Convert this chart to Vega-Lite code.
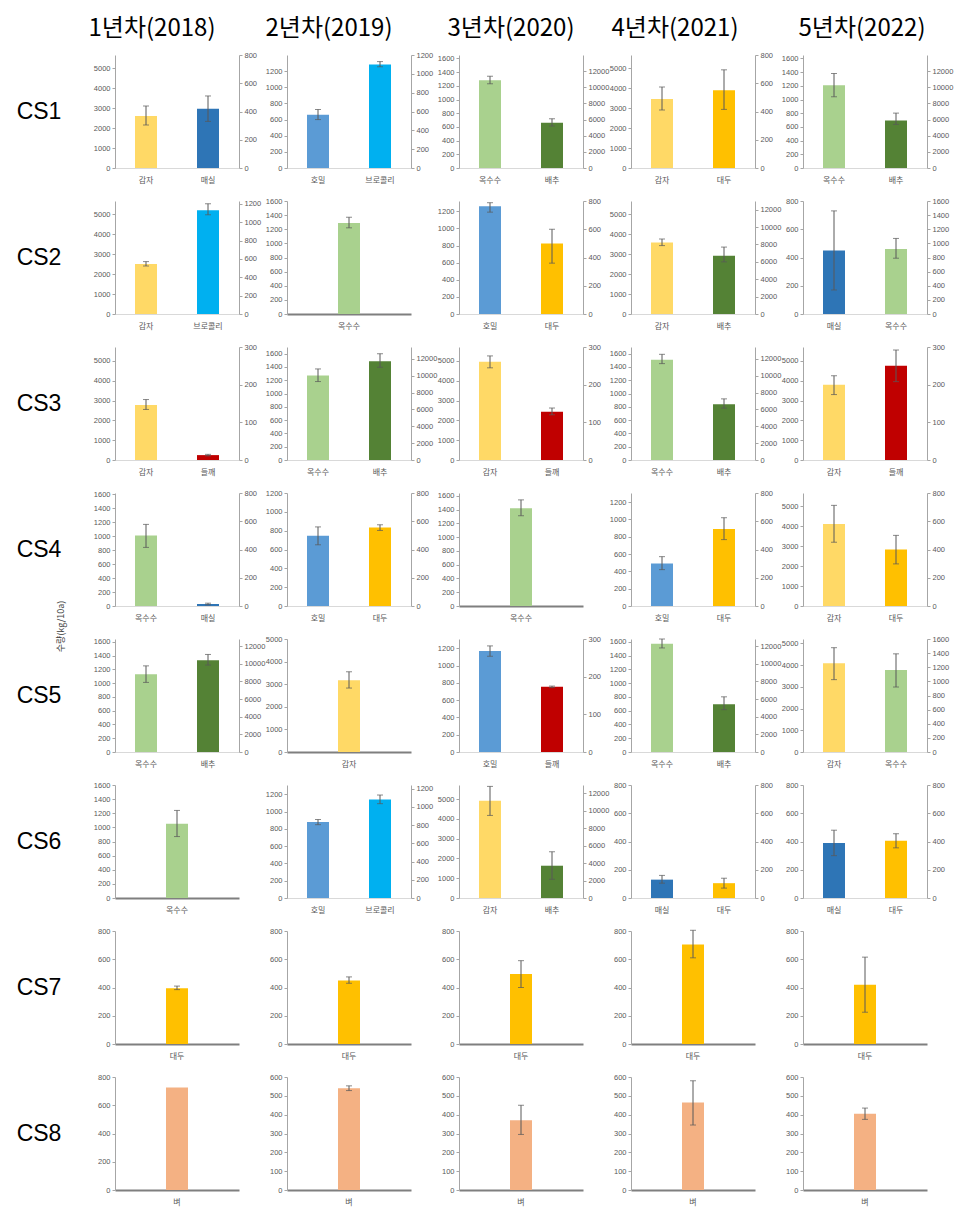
{
"$schema":"https://vega.github.io/schema/vega-lite/v6.json",
"padding":5,"background":"white",
"data":{"values":[
{"p":"1-1","c":"감자","s":"L","v":2600,"lo":2150,"hi":3100},
{"p":"1-1","c":"매실","s":"R","v":420,"lo":330,"hi":510},
{"p":"1-2","c":"호밀","s":"L","v":660,"lo":600,"hi":725},
{"p":"1-2","c":"브로콜리","s":"R","v":1100,"lo":1075,"hi":1130},
{"p":"1-3","c":"옥수수","s":"L","v":1280,"lo":1230,"hi":1340},
{"p":"1-3","c":"배추","s":"R","v":5600,"lo":5200,"hi":6100},
{"p":"1-4","c":"감자","s":"L","v":3450,"lo":2900,"hi":4050},
{"p":"1-4","c":"대두","s":"R","v":550,"lo":415,"hi":695},
{"p":"1-5","c":"옥수수","s":"L","v":1210,"lo":1040,"hi":1380},
{"p":"1-5","c":"배추","s":"R","v":5900,"lo":5400,"hi":6800},
{"p":"2-1","c":"감자","s":"L","v":2500,"lo":2400,"hi":2620},
{"p":"2-1","c":"브로콜리","s":"R","v":1130,"lo":1080,"hi":1200},
{"p":"2-2","c":"옥수수","s":"L","v":1290,"lo":1220,"hi":1370},
{"p":"2-3","c":"호밀","s":"L","v":1260,"lo":1190,"hi":1300},
{"p":"2-3","c":"대두","s":"R","v":500,"lo":360,"hi":600},
{"p":"2-4","c":"감자","s":"L","v":3580,"lo":3420,"hi":3750},
{"p":"2-4","c":"배추","s":"R","v":6700,"lo":6000,"hi":7700},
{"p":"2-5","c":"매실","s":"L","v":450,"lo":170,"hi":730},
{"p":"2-5","c":"옥수수","s":"R","v":920,"lo":790,"hi":1070},
{"p":"3-1","c":"감자","s":"L","v":2780,"lo":2550,"hi":3050},
{"p":"3-1","c":"들깨","s":"R","v":13,"lo":11,"hi":15},
{"p":"3-2","c":"옥수수","s":"L","v":1270,"lo":1180,"hi":1370},
{"p":"3-2","c":"배추","s":"R","v":11700,"lo":11000,"hi":12600},
{"p":"3-3","c":"감자","s":"L","v":4950,"lo":4650,"hi":5250},
{"p":"3-3","c":"들깨","s":"R","v":128,"lo":120,"hi":138},
{"p":"3-4","c":"옥수수","s":"L","v":1510,"lo":1450,"hi":1590},
{"p":"3-4","c":"배추","s":"R","v":6600,"lo":6150,"hi":7250},
{"p":"3-5","c":"감자","s":"L","v":3800,"lo":3300,"hi":4250},
{"p":"3-5","c":"들깨","s":"R","v":250,"lo":208,"hi":292},
{"p":"4-1","c":"옥수수","s":"L","v":1010,"lo":840,"hi":1170},
{"p":"4-1","c":"매실","s":"R","v":14,"lo":8,"hi":20},
{"p":"4-2","c":"호밀","s":"L","v":745,"lo":650,"hi":840},
{"p":"4-2","c":"대두","s":"R","v":555,"lo":535,"hi":575},
{"p":"4-3","c":"옥수수","s":"L","v":1420,"lo":1310,"hi":1540},
{"p":"4-4","c":"호밀","s":"L","v":490,"lo":420,"hi":570},
{"p":"4-4","c":"대두","s":"R","v":545,"lo":470,"hi":625},
{"p":"4-5","c":"감자","s":"L","v":4120,"lo":3200,"hi":5050},
{"p":"4-5","c":"대두","s":"R","v":400,"lo":298,"hi":500},
{"p":"5-1","c":"옥수수","s":"L","v":1130,"lo":1010,"hi":1250},
{"p":"5-1","c":"배추","s":"R","v":10400,"lo":9850,"hi":11050},
{"p":"5-2","c":"감자","s":"L","v":3180,"lo":2830,"hi":3550},
{"p":"5-3","c":"호밀","s":"L","v":1170,"lo":1110,"hi":1230},
{"p":"5-3","c":"들깨","s":"R","v":173,"lo":171,"hi":175},
{"p":"5-4","c":"옥수수","s":"L","v":1570,"lo":1510,"hi":1640},
{"p":"5-4","c":"배추","s":"R","v":5400,"lo":4800,"hi":6250},
{"p":"5-5","c":"감자","s":"L","v":4080,"lo":3330,"hi":4800},
{"p":"5-5","c":"옥수수","s":"R","v":1160,"lo":920,"hi":1390},
{"p":"6-1","c":"옥수수","s":"L","v":1050,"lo":870,"hi":1240},
{"p":"6-2","c":"호밀","s":"L","v":880,"lo":850,"hi":910},
{"p":"6-2","c":"브로콜리","s":"R","v":1080,"lo":1035,"hi":1130},
{"p":"6-3","c":"감자","s":"L","v":4920,"lo":4180,"hi":5650},
{"p":"6-3","c":"배추","s":"R","v":3700,"lo":2150,"hi":5300},
{"p":"6-4","c":"매실","s":"L","v":130,"lo":105,"hi":160},
{"p":"6-4","c":"대두","s":"R","v":105,"lo":70,"hi":140},
{"p":"6-5","c":"매실","s":"L","v":390,"lo":300,"hi":480},
{"p":"6-5","c":"대두","s":"R","v":405,"lo":355,"hi":455},
{"p":"7-1","c":"대두","s":"L","v":395,"lo":385,"hi":410},
{"p":"7-2","c":"대두","s":"L","v":450,"lo":430,"hi":475},
{"p":"7-3","c":"대두","s":"L","v":495,"lo":400,"hi":590},
{"p":"7-4","c":"대두","s":"L","v":705,"lo":610,"hi":805},
{"p":"7-5","c":"대두","s":"L","v":420,"lo":225,"hi":615},
{"p":"8-1","c":"벼","s":"L","v":725},
{"p":"8-2","c":"벼","s":"L","v":540,"lo":528,"hi":553},
{"p":"8-3","c":"벼","s":"L","v":370,"lo":295,"hi":450},
{"p":"8-4","c":"벼","s":"L","v":465,"lo":345,"hi":580},
{"p":"8-5","c":"벼","s":"L","v":405,"lo":375,"hi":435}
]},
"config":{"view":{"stroke":null},
"axisY":{"labelFontSize":7.5,"labelColor":"#595959","domainColor":"#A6A6A6","tickColor":"#A6A6A6","tickSize":3,"grid":false,"labelFont":"Liberation Sans","labelPadding":2,"format":"d"},
"axisX":{"labelAngle":0,"ticks":false,"labelFont":"Noto Sans CJK KR","labelFontSize":8,"labelColor":"#595959","labelPadding":8,"domainColor":"#D9D9D9","grid":false}},
"columns":6,"align":"each","bounds":"flush","spacing":{"row":33,"column":48},
"concat":[
{"width":62,"height":10,"data":{"values":[{"t":""}]},"mark":{"type":"text","fontSize":24},"encoding":{"text":{"field":"t"}}},
{"width":124,"height":10,"data":{"values":[{"t":"1년차(2018)"}]},"mark":{"type":"text","fontSize":24,"font":"Noto Sans CJK KR","dx":-25,"dy":12},"encoding":{"text":{"field":"t"}}},
{"width":124,"height":10,"data":{"values":[{"t":"2년차(2019)"}]},"mark":{"type":"text","fontSize":24,"font":"Noto Sans CJK KR","dx":-20,"dy":12},"encoding":{"text":{"field":"t"}}},
{"width":124,"height":10,"data":{"values":[{"t":"3년차(2020)"}]},"mark":{"type":"text","fontSize":24,"font":"Noto Sans CJK KR","dx":-10,"dy":12},"encoding":{"text":{"field":"t"}}},
{"width":124,"height":10,"data":{"values":[{"t":"4년차(2021)"}]},"mark":{"type":"text","fontSize":24,"font":"Noto Sans CJK KR","dx":-18,"dy":12},"encoding":{"text":{"field":"t"}}},
{"width":124,"height":10,"data":{"values":[{"t":"5년차(2022)"}]},"mark":{"type":"text","fontSize":24,"font":"Noto Sans CJK KR","dx":-3,"dy":12},"encoding":{"text":{"field":"t"}}},
{"width":62,"height":113,"data":{"values":[{"t":"CS1"}]},"mark":{"type":"text","fontSize":23,"font":"Liberation Sans","dx":3},"encoding":{"text":{"field":"t"}}},
{"width":124,"height":113,"transform":[{"filter":"datum.p=='1-1'"}],"encoding":{"x":{"field":"c","type":"nominal","title":null,"scale":{"domain":["감자","매실"],"paddingInner":0,"paddingOuter":0}}},"layer":[
{"transform":[{"filter":"datum.s=='L'"}],"encoding":{"y":{"field":"v","type":"quantitative","title":null,"scale":{"domain":[0,5650],"nice":false},"axis":{"values":[0,1000,2000,3000,4000,5000]}}},"layer":[{"mark":{"type":"bar","width":22},"encoding":{"color":{"field":"c","type":"nominal","legend":null,"scale":{"domain":["감자","매실","호밀","브로콜리","옥수수","배추","대두","들깨","벼"],"range":["#FFD966","#2E75B6","#5B9BD5","#00B0F0","#A9D18E","#548235","#FFC000","#C00000","#F4B183"]}}}},{"mark":{"type":"errorbar","ticks":{"size":6,"color":"#595959"},"rule":{"color":"#595959"}},"encoding":{"y":{"field":"lo","type":"quantitative","title":null},"y2":{"field":"hi"}}}]},
{"transform":[{"filter":"datum.s=='R'"}],"encoding":{"y":{"field":"v","type":"quantitative","title":null,"scale":{"domain":[0,800],"nice":false},"axis":{"orient":"right","values":[0,200,400,600,800]}}},"layer":[{"mark":{"type":"bar","width":22},"encoding":{"color":{"field":"c","type":"nominal","legend":null,"scale":{"domain":["감자","매실","호밀","브로콜리","옥수수","배추","대두","들깨","벼"],"range":["#FFD966","#2E75B6","#5B9BD5","#00B0F0","#A9D18E","#548235","#FFC000","#C00000","#F4B183"]}}}},{"mark":{"type":"errorbar","ticks":{"size":6,"color":"#595959"},"rule":{"color":"#595959"}},"encoding":{"y":{"field":"lo","type":"quantitative","title":null},"y2":{"field":"hi"}}}]}
],"resolve":{"scale":{"y":"independent"}}},
{"width":124,"height":113,"transform":[{"filter":"datum.p=='1-2'"}],"encoding":{"x":{"field":"c","type":"nominal","title":null,"scale":{"domain":["호밀","브로콜리"],"paddingInner":0,"paddingOuter":0}}},"layer":[
{"transform":[{"filter":"datum.s=='L'"}],"encoding":{"y":{"field":"v","type":"quantitative","title":null,"scale":{"domain":[0,1400],"nice":false},"axis":{"values":[0,200,400,600,800,1000,1200]}}},"layer":[{"mark":{"type":"bar","width":22},"encoding":{"color":{"field":"c","type":"nominal","legend":null,"scale":{"domain":["감자","매실","호밀","브로콜리","옥수수","배추","대두","들깨","벼"],"range":["#FFD966","#2E75B6","#5B9BD5","#00B0F0","#A9D18E","#548235","#FFC000","#C00000","#F4B183"]}}}},{"mark":{"type":"errorbar","ticks":{"size":6,"color":"#595959"},"rule":{"color":"#595959"}},"encoding":{"y":{"field":"lo","type":"quantitative","title":null},"y2":{"field":"hi"}}}]},
{"transform":[{"filter":"datum.s=='R'"}],"encoding":{"y":{"field":"v","type":"quantitative","title":null,"scale":{"domain":[0,1200],"nice":false},"axis":{"orient":"right","values":[0,200,400,600,800,1000,1200]}}},"layer":[{"mark":{"type":"bar","width":22},"encoding":{"color":{"field":"c","type":"nominal","legend":null,"scale":{"domain":["감자","매실","호밀","브로콜리","옥수수","배추","대두","들깨","벼"],"range":["#FFD966","#2E75B6","#5B9BD5","#00B0F0","#A9D18E","#548235","#FFC000","#C00000","#F4B183"]}}}},{"mark":{"type":"errorbar","ticks":{"size":6,"color":"#595959"},"rule":{"color":"#595959"}},"encoding":{"y":{"field":"lo","type":"quantitative","title":null},"y2":{"field":"hi"}}}]}
],"resolve":{"scale":{"y":"independent"}}},
{"width":124,"height":113,"transform":[{"filter":"datum.p=='1-3'"}],"encoding":{"x":{"field":"c","type":"nominal","title":null,"scale":{"domain":["옥수수","배추"],"paddingInner":0,"paddingOuter":0}}},"layer":[
{"transform":[{"filter":"datum.s=='L'"}],"encoding":{"y":{"field":"v","type":"quantitative","title":null,"scale":{"domain":[0,1650],"nice":false},"axis":{"values":[0,200,400,600,800,1000,1200,1400,1600]}}},"layer":[{"mark":{"type":"bar","width":22},"encoding":{"color":{"field":"c","type":"nominal","legend":null,"scale":{"domain":["감자","매실","호밀","브로콜리","옥수수","배추","대두","들깨","벼"],"range":["#FFD966","#2E75B6","#5B9BD5","#00B0F0","#A9D18E","#548235","#FFC000","#C00000","#F4B183"]}}}},{"mark":{"type":"errorbar","ticks":{"size":6,"color":"#595959"},"rule":{"color":"#595959"}},"encoding":{"y":{"field":"lo","type":"quantitative","title":null},"y2":{"field":"hi"}}}]},
{"transform":[{"filter":"datum.s=='R'"}],"encoding":{"y":{"field":"v","type":"quantitative","title":null,"scale":{"domain":[0,14000],"nice":false},"axis":{"orient":"right","values":[0,2000,4000,6000,8000,10000,12000]}}},"layer":[{"mark":{"type":"bar","width":22},"encoding":{"color":{"field":"c","type":"nominal","legend":null,"scale":{"domain":["감자","매실","호밀","브로콜리","옥수수","배추","대두","들깨","벼"],"range":["#FFD966","#2E75B6","#5B9BD5","#00B0F0","#A9D18E","#548235","#FFC000","#C00000","#F4B183"]}}}},{"mark":{"type":"errorbar","ticks":{"size":6,"color":"#595959"},"rule":{"color":"#595959"}},"encoding":{"y":{"field":"lo","type":"quantitative","title":null},"y2":{"field":"hi"}}}]}
],"resolve":{"scale":{"y":"independent"}}},
{"width":124,"height":113,"transform":[{"filter":"datum.p=='1-4'"}],"encoding":{"x":{"field":"c","type":"nominal","title":null,"scale":{"domain":["감자","대두"],"paddingInner":0,"paddingOuter":0}}},"layer":[
{"transform":[{"filter":"datum.s=='L'"}],"encoding":{"y":{"field":"v","type":"quantitative","title":null,"scale":{"domain":[0,5650],"nice":false},"axis":{"values":[0,1000,2000,3000,4000,5000]}}},"layer":[{"mark":{"type":"bar","width":22},"encoding":{"color":{"field":"c","type":"nominal","legend":null,"scale":{"domain":["감자","매실","호밀","브로콜리","옥수수","배추","대두","들깨","벼"],"range":["#FFD966","#2E75B6","#5B9BD5","#00B0F0","#A9D18E","#548235","#FFC000","#C00000","#F4B183"]}}}},{"mark":{"type":"errorbar","ticks":{"size":6,"color":"#595959"},"rule":{"color":"#595959"}},"encoding":{"y":{"field":"lo","type":"quantitative","title":null},"y2":{"field":"hi"}}}]},
{"transform":[{"filter":"datum.s=='R'"}],"encoding":{"y":{"field":"v","type":"quantitative","title":null,"scale":{"domain":[0,800],"nice":false},"axis":{"orient":"right","values":[0,200,400,600,800]}}},"layer":[{"mark":{"type":"bar","width":22},"encoding":{"color":{"field":"c","type":"nominal","legend":null,"scale":{"domain":["감자","매실","호밀","브로콜리","옥수수","배추","대두","들깨","벼"],"range":["#FFD966","#2E75B6","#5B9BD5","#00B0F0","#A9D18E","#548235","#FFC000","#C00000","#F4B183"]}}}},{"mark":{"type":"errorbar","ticks":{"size":6,"color":"#595959"},"rule":{"color":"#595959"}},"encoding":{"y":{"field":"lo","type":"quantitative","title":null},"y2":{"field":"hi"}}}]}
],"resolve":{"scale":{"y":"independent"}}},
{"width":124,"height":113,"transform":[{"filter":"datum.p=='1-5'"}],"encoding":{"x":{"field":"c","type":"nominal","title":null,"scale":{"domain":["옥수수","배추"],"paddingInner":0,"paddingOuter":0}}},"layer":[
{"transform":[{"filter":"datum.s=='L'"}],"encoding":{"y":{"field":"v","type":"quantitative","title":null,"scale":{"domain":[0,1650],"nice":false},"axis":{"values":[0,200,400,600,800,1000,1200,1400,1600]}}},"layer":[{"mark":{"type":"bar","width":22},"encoding":{"color":{"field":"c","type":"nominal","legend":null,"scale":{"domain":["감자","매실","호밀","브로콜리","옥수수","배추","대두","들깨","벼"],"range":["#FFD966","#2E75B6","#5B9BD5","#00B0F0","#A9D18E","#548235","#FFC000","#C00000","#F4B183"]}}}},{"mark":{"type":"errorbar","ticks":{"size":6,"color":"#595959"},"rule":{"color":"#595959"}},"encoding":{"y":{"field":"lo","type":"quantitative","title":null},"y2":{"field":"hi"}}}]},
{"transform":[{"filter":"datum.s=='R'"}],"encoding":{"y":{"field":"v","type":"quantitative","title":null,"scale":{"domain":[0,14000],"nice":false},"axis":{"orient":"right","values":[0,2000,4000,6000,8000,10000,12000]}}},"layer":[{"mark":{"type":"bar","width":22},"encoding":{"color":{"field":"c","type":"nominal","legend":null,"scale":{"domain":["감자","매실","호밀","브로콜리","옥수수","배추","대두","들깨","벼"],"range":["#FFD966","#2E75B6","#5B9BD5","#00B0F0","#A9D18E","#548235","#FFC000","#C00000","#F4B183"]}}}},{"mark":{"type":"errorbar","ticks":{"size":6,"color":"#595959"},"rule":{"color":"#595959"}},"encoding":{"y":{"field":"lo","type":"quantitative","title":null},"y2":{"field":"hi"}}}]}
],"resolve":{"scale":{"y":"independent"}}},
{"width":62,"height":113,"data":{"values":[{"t":"CS2"}]},"mark":{"type":"text","fontSize":23,"font":"Liberation Sans","dx":3},"encoding":{"text":{"field":"t"}}},
{"width":124,"height":113,"transform":[{"filter":"datum.p=='2-1'"}],"encoding":{"x":{"field":"c","type":"nominal","title":null,"scale":{"domain":["감자","브로콜리"],"paddingInner":0,"paddingOuter":0}}},"layer":[
{"transform":[{"filter":"datum.s=='L'"}],"encoding":{"y":{"field":"v","type":"quantitative","title":null,"scale":{"domain":[0,5650],"nice":false},"axis":{"values":[0,1000,2000,3000,4000,5000]}}},"layer":[{"mark":{"type":"bar","width":22},"encoding":{"color":{"field":"c","type":"nominal","legend":null,"scale":{"domain":["감자","매실","호밀","브로콜리","옥수수","배추","대두","들깨","벼"],"range":["#FFD966","#2E75B6","#5B9BD5","#00B0F0","#A9D18E","#548235","#FFC000","#C00000","#F4B183"]}}}},{"mark":{"type":"errorbar","ticks":{"size":6,"color":"#595959"},"rule":{"color":"#595959"}},"encoding":{"y":{"field":"lo","type":"quantitative","title":null},"y2":{"field":"hi"}}}]},
{"transform":[{"filter":"datum.s=='R'"}],"encoding":{"y":{"field":"v","type":"quantitative","title":null,"scale":{"domain":[0,1230],"nice":false},"axis":{"orient":"right","values":[0,200,400,600,800,1000,1200]}}},"layer":[{"mark":{"type":"bar","width":22},"encoding":{"color":{"field":"c","type":"nominal","legend":null,"scale":{"domain":["감자","매실","호밀","브로콜리","옥수수","배추","대두","들깨","벼"],"range":["#FFD966","#2E75B6","#5B9BD5","#00B0F0","#A9D18E","#548235","#FFC000","#C00000","#F4B183"]}}}},{"mark":{"type":"errorbar","ticks":{"size":6,"color":"#595959"},"rule":{"color":"#595959"}},"encoding":{"y":{"field":"lo","type":"quantitative","title":null},"y2":{"field":"hi"}}}]}
],"resolve":{"scale":{"y":"independent"}}},
{"width":124,"height":113,"transform":[{"filter":"datum.p=='2-2'"}],"encoding":{"x":{"field":"c","type":"nominal","title":null,"scale":{"domain":["옥수수"],"paddingInner":0,"paddingOuter":0},"axis":{"domainColor":"#7F7F7F","domainWidth":2}},"y":{"field":"v","type":"quantitative","title":null,"scale":{"domain":[0,1600],"nice":false},"axis":{"values":[0,200,400,600,800,1000,1200,1400,1600]}}},"layer":[{"mark":{"type":"bar","width":22},"encoding":{"color":{"field":"c","type":"nominal","legend":null,"scale":{"domain":["감자","매실","호밀","브로콜리","옥수수","배추","대두","들깨","벼"],"range":["#FFD966","#2E75B6","#5B9BD5","#00B0F0","#A9D18E","#548235","#FFC000","#C00000","#F4B183"]}}}},{"mark":{"type":"errorbar","ticks":{"size":6,"color":"#595959"},"rule":{"color":"#595959"}},"encoding":{"y":{"field":"lo","type":"quantitative","title":null},"y2":{"field":"hi"}}}]},
{"width":124,"height":113,"transform":[{"filter":"datum.p=='2-3'"}],"encoding":{"x":{"field":"c","type":"nominal","title":null,"scale":{"domain":["호밀","대두"],"paddingInner":0,"paddingOuter":0}}},"layer":[
{"transform":[{"filter":"datum.s=='L'"}],"encoding":{"y":{"field":"v","type":"quantitative","title":null,"scale":{"domain":[0,1320],"nice":false},"axis":{"values":[0,200,400,600,800,1000,1200]}}},"layer":[{"mark":{"type":"bar","width":22},"encoding":{"color":{"field":"c","type":"nominal","legend":null,"scale":{"domain":["감자","매실","호밀","브로콜리","옥수수","배추","대두","들깨","벼"],"range":["#FFD966","#2E75B6","#5B9BD5","#00B0F0","#A9D18E","#548235","#FFC000","#C00000","#F4B183"]}}}},{"mark":{"type":"errorbar","ticks":{"size":6,"color":"#595959"},"rule":{"color":"#595959"}},"encoding":{"y":{"field":"lo","type":"quantitative","title":null},"y2":{"field":"hi"}}}]},
{"transform":[{"filter":"datum.s=='R'"}],"encoding":{"y":{"field":"v","type":"quantitative","title":null,"scale":{"domain":[0,800],"nice":false},"axis":{"orient":"right","values":[0,200,400,600,800]}}},"layer":[{"mark":{"type":"bar","width":22},"encoding":{"color":{"field":"c","type":"nominal","legend":null,"scale":{"domain":["감자","매실","호밀","브로콜리","옥수수","배추","대두","들깨","벼"],"range":["#FFD966","#2E75B6","#5B9BD5","#00B0F0","#A9D18E","#548235","#FFC000","#C00000","#F4B183"]}}}},{"mark":{"type":"errorbar","ticks":{"size":6,"color":"#595959"},"rule":{"color":"#595959"}},"encoding":{"y":{"field":"lo","type":"quantitative","title":null},"y2":{"field":"hi"}}}]}
],"resolve":{"scale":{"y":"independent"}}},
{"width":124,"height":113,"transform":[{"filter":"datum.p=='2-4'"}],"encoding":{"x":{"field":"c","type":"nominal","title":null,"scale":{"domain":["감자","배추"],"paddingInner":0,"paddingOuter":0}}},"layer":[
{"transform":[{"filter":"datum.s=='L'"}],"encoding":{"y":{"field":"v","type":"quantitative","title":null,"scale":{"domain":[0,5650],"nice":false},"axis":{"values":[0,1000,2000,3000,4000,5000]}}},"layer":[{"mark":{"type":"bar","width":22},"encoding":{"color":{"field":"c","type":"nominal","legend":null,"scale":{"domain":["감자","매실","호밀","브로콜리","옥수수","배추","대두","들깨","벼"],"range":["#FFD966","#2E75B6","#5B9BD5","#00B0F0","#A9D18E","#548235","#FFC000","#C00000","#F4B183"]}}}},{"mark":{"type":"errorbar","ticks":{"size":6,"color":"#595959"},"rule":{"color":"#595959"}},"encoding":{"y":{"field":"lo","type":"quantitative","title":null},"y2":{"field":"hi"}}}]},
{"transform":[{"filter":"datum.s=='R'"}],"encoding":{"y":{"field":"v","type":"quantitative","title":null,"scale":{"domain":[0,13000],"nice":false},"axis":{"orient":"right","values":[0,2000,4000,6000,8000,10000,12000]}}},"layer":[{"mark":{"type":"bar","width":22},"encoding":{"color":{"field":"c","type":"nominal","legend":null,"scale":{"domain":["감자","매실","호밀","브로콜리","옥수수","배추","대두","들깨","벼"],"range":["#FFD966","#2E75B6","#5B9BD5","#00B0F0","#A9D18E","#548235","#FFC000","#C00000","#F4B183"]}}}},{"mark":{"type":"errorbar","ticks":{"size":6,"color":"#595959"},"rule":{"color":"#595959"}},"encoding":{"y":{"field":"lo","type":"quantitative","title":null},"y2":{"field":"hi"}}}]}
],"resolve":{"scale":{"y":"independent"}}},
{"width":124,"height":113,"transform":[{"filter":"datum.p=='2-5'"}],"encoding":{"x":{"field":"c","type":"nominal","title":null,"scale":{"domain":["매실","옥수수"],"paddingInner":0,"paddingOuter":0}}},"layer":[
{"transform":[{"filter":"datum.s=='L'"}],"encoding":{"y":{"field":"v","type":"quantitative","title":null,"scale":{"domain":[0,800],"nice":false},"axis":{"values":[0,200,400,600,800]}}},"layer":[{"mark":{"type":"bar","width":22},"encoding":{"color":{"field":"c","type":"nominal","legend":null,"scale":{"domain":["감자","매실","호밀","브로콜리","옥수수","배추","대두","들깨","벼"],"range":["#FFD966","#2E75B6","#5B9BD5","#00B0F0","#A9D18E","#548235","#FFC000","#C00000","#F4B183"]}}}},{"mark":{"type":"errorbar","ticks":{"size":6,"color":"#595959"},"rule":{"color":"#595959"}},"encoding":{"y":{"field":"lo","type":"quantitative","title":null},"y2":{"field":"hi"}}}]},
{"transform":[{"filter":"datum.s=='R'"}],"encoding":{"y":{"field":"v","type":"quantitative","title":null,"scale":{"domain":[0,1600],"nice":false},"axis":{"orient":"right","values":[0,200,400,600,800,1000,1200,1400,1600]}}},"layer":[{"mark":{"type":"bar","width":22},"encoding":{"color":{"field":"c","type":"nominal","legend":null,"scale":{"domain":["감자","매실","호밀","브로콜리","옥수수","배추","대두","들깨","벼"],"range":["#FFD966","#2E75B6","#5B9BD5","#00B0F0","#A9D18E","#548235","#FFC000","#C00000","#F4B183"]}}}},{"mark":{"type":"errorbar","ticks":{"size":6,"color":"#595959"},"rule":{"color":"#595959"}},"encoding":{"y":{"field":"lo","type":"quantitative","title":null},"y2":{"field":"hi"}}}]}
],"resolve":{"scale":{"y":"independent"}}},
{"width":62,"height":113,"data":{"values":[{"t":"CS3"}]},"mark":{"type":"text","fontSize":23,"font":"Liberation Sans","dx":3},"encoding":{"text":{"field":"t"}}},
{"width":124,"height":113,"transform":[{"filter":"datum.p=='3-1'"}],"encoding":{"x":{"field":"c","type":"nominal","title":null,"scale":{"domain":["감자","들깨"],"paddingInner":0,"paddingOuter":0}}},"layer":[
{"transform":[{"filter":"datum.s=='L'"}],"encoding":{"y":{"field":"v","type":"quantitative","title":null,"scale":{"domain":[0,5700],"nice":false},"axis":{"values":[0,1000,2000,3000,4000,5000]}}},"layer":[{"mark":{"type":"bar","width":22},"encoding":{"color":{"field":"c","type":"nominal","legend":null,"scale":{"domain":["감자","매실","호밀","브로콜리","옥수수","배추","대두","들깨","벼"],"range":["#FFD966","#2E75B6","#5B9BD5","#00B0F0","#A9D18E","#548235","#FFC000","#C00000","#F4B183"]}}}},{"mark":{"type":"errorbar","ticks":{"size":6,"color":"#595959"},"rule":{"color":"#595959"}},"encoding":{"y":{"field":"lo","type":"quantitative","title":null},"y2":{"field":"hi"}}}]},
{"transform":[{"filter":"datum.s=='R'"}],"encoding":{"y":{"field":"v","type":"quantitative","title":null,"scale":{"domain":[0,300],"nice":false},"axis":{"orient":"right","values":[0,100,200,300]}}},"layer":[{"mark":{"type":"bar","width":22},"encoding":{"color":{"field":"c","type":"nominal","legend":null,"scale":{"domain":["감자","매실","호밀","브로콜리","옥수수","배추","대두","들깨","벼"],"range":["#FFD966","#2E75B6","#5B9BD5","#00B0F0","#A9D18E","#548235","#FFC000","#C00000","#F4B183"]}}}},{"mark":{"type":"errorbar","ticks":{"size":6,"color":"#595959"},"rule":{"color":"#595959"}},"encoding":{"y":{"field":"lo","type":"quantitative","title":null},"y2":{"field":"hi"}}}]}
],"resolve":{"scale":{"y":"independent"}}},
{"width":124,"height":113,"transform":[{"filter":"datum.p=='3-2'"}],"encoding":{"x":{"field":"c","type":"nominal","title":null,"scale":{"domain":["옥수수","배추"],"paddingInner":0,"paddingOuter":0}}},"layer":[
{"transform":[{"filter":"datum.s=='L'"}],"encoding":{"y":{"field":"v","type":"quantitative","title":null,"scale":{"domain":[0,1700],"nice":false},"axis":{"values":[0,200,400,600,800,1000,1200,1400,1600]}}},"layer":[{"mark":{"type":"bar","width":22},"encoding":{"color":{"field":"c","type":"nominal","legend":null,"scale":{"domain":["감자","매실","호밀","브로콜리","옥수수","배추","대두","들깨","벼"],"range":["#FFD966","#2E75B6","#5B9BD5","#00B0F0","#A9D18E","#548235","#FFC000","#C00000","#F4B183"]}}}},{"mark":{"type":"errorbar","ticks":{"size":6,"color":"#595959"},"rule":{"color":"#595959"}},"encoding":{"y":{"field":"lo","type":"quantitative","title":null},"y2":{"field":"hi"}}}]},
{"transform":[{"filter":"datum.s=='R'"}],"encoding":{"y":{"field":"v","type":"quantitative","title":null,"scale":{"domain":[0,13400],"nice":false},"axis":{"orient":"right","values":[0,2000,4000,6000,8000,10000,12000]}}},"layer":[{"mark":{"type":"bar","width":22},"encoding":{"color":{"field":"c","type":"nominal","legend":null,"scale":{"domain":["감자","매실","호밀","브로콜리","옥수수","배추","대두","들깨","벼"],"range":["#FFD966","#2E75B6","#5B9BD5","#00B0F0","#A9D18E","#548235","#FFC000","#C00000","#F4B183"]}}}},{"mark":{"type":"errorbar","ticks":{"size":6,"color":"#595959"},"rule":{"color":"#595959"}},"encoding":{"y":{"field":"lo","type":"quantitative","title":null},"y2":{"field":"hi"}}}]}
],"resolve":{"scale":{"y":"independent"}}},
{"width":124,"height":113,"transform":[{"filter":"datum.p=='3-3'"}],"encoding":{"x":{"field":"c","type":"nominal","title":null,"scale":{"domain":["감자","들깨"],"paddingInner":0,"paddingOuter":0}}},"layer":[
{"transform":[{"filter":"datum.s=='L'"}],"encoding":{"y":{"field":"v","type":"quantitative","title":null,"scale":{"domain":[0,5700],"nice":false},"axis":{"values":[0,1000,2000,3000,4000,5000]}}},"layer":[{"mark":{"type":"bar","width":22},"encoding":{"color":{"field":"c","type":"nominal","legend":null,"scale":{"domain":["감자","매실","호밀","브로콜리","옥수수","배추","대두","들깨","벼"],"range":["#FFD966","#2E75B6","#5B9BD5","#00B0F0","#A9D18E","#548235","#FFC000","#C00000","#F4B183"]}}}},{"mark":{"type":"errorbar","ticks":{"size":6,"color":"#595959"},"rule":{"color":"#595959"}},"encoding":{"y":{"field":"lo","type":"quantitative","title":null},"y2":{"field":"hi"}}}]},
{"transform":[{"filter":"datum.s=='R'"}],"encoding":{"y":{"field":"v","type":"quantitative","title":null,"scale":{"domain":[0,300],"nice":false},"axis":{"orient":"right","values":[0,100,200,300]}}},"layer":[{"mark":{"type":"bar","width":22},"encoding":{"color":{"field":"c","type":"nominal","legend":null,"scale":{"domain":["감자","매실","호밀","브로콜리","옥수수","배추","대두","들깨","벼"],"range":["#FFD966","#2E75B6","#5B9BD5","#00B0F0","#A9D18E","#548235","#FFC000","#C00000","#F4B183"]}}}},{"mark":{"type":"errorbar","ticks":{"size":6,"color":"#595959"},"rule":{"color":"#595959"}},"encoding":{"y":{"field":"lo","type":"quantitative","title":null},"y2":{"field":"hi"}}}]}
],"resolve":{"scale":{"y":"independent"}}},
{"width":124,"height":113,"transform":[{"filter":"datum.p=='3-4'"}],"encoding":{"x":{"field":"c","type":"nominal","title":null,"scale":{"domain":["옥수수","배추"],"paddingInner":0,"paddingOuter":0}}},"layer":[
{"transform":[{"filter":"datum.s=='L'"}],"encoding":{"y":{"field":"v","type":"quantitative","title":null,"scale":{"domain":[0,1700],"nice":false},"axis":{"values":[0,200,400,600,800,1000,1200,1400,1600]}}},"layer":[{"mark":{"type":"bar","width":22},"encoding":{"color":{"field":"c","type":"nominal","legend":null,"scale":{"domain":["감자","매실","호밀","브로콜리","옥수수","배추","대두","들깨","벼"],"range":["#FFD966","#2E75B6","#5B9BD5","#00B0F0","#A9D18E","#548235","#FFC000","#C00000","#F4B183"]}}}},{"mark":{"type":"errorbar","ticks":{"size":6,"color":"#595959"},"rule":{"color":"#595959"}},"encoding":{"y":{"field":"lo","type":"quantitative","title":null},"y2":{"field":"hi"}}}]},
{"transform":[{"filter":"datum.s=='R'"}],"encoding":{"y":{"field":"v","type":"quantitative","title":null,"scale":{"domain":[0,13400],"nice":false},"axis":{"orient":"right","values":[0,2000,4000,6000,8000,10000,12000]}}},"layer":[{"mark":{"type":"bar","width":22},"encoding":{"color":{"field":"c","type":"nominal","legend":null,"scale":{"domain":["감자","매실","호밀","브로콜리","옥수수","배추","대두","들깨","벼"],"range":["#FFD966","#2E75B6","#5B9BD5","#00B0F0","#A9D18E","#548235","#FFC000","#C00000","#F4B183"]}}}},{"mark":{"type":"errorbar","ticks":{"size":6,"color":"#595959"},"rule":{"color":"#595959"}},"encoding":{"y":{"field":"lo","type":"quantitative","title":null},"y2":{"field":"hi"}}}]}
],"resolve":{"scale":{"y":"independent"}}},
{"width":124,"height":113,"transform":[{"filter":"datum.p=='3-5'"}],"encoding":{"x":{"field":"c","type":"nominal","title":null,"scale":{"domain":["감자","들깨"],"paddingInner":0,"paddingOuter":0}}},"layer":[
{"transform":[{"filter":"datum.s=='L'"}],"encoding":{"y":{"field":"v","type":"quantitative","title":null,"scale":{"domain":[0,5700],"nice":false},"axis":{"values":[0,1000,2000,3000,4000,5000]}}},"layer":[{"mark":{"type":"bar","width":22},"encoding":{"color":{"field":"c","type":"nominal","legend":null,"scale":{"domain":["감자","매실","호밀","브로콜리","옥수수","배추","대두","들깨","벼"],"range":["#FFD966","#2E75B6","#5B9BD5","#00B0F0","#A9D18E","#548235","#FFC000","#C00000","#F4B183"]}}}},{"mark":{"type":"errorbar","ticks":{"size":6,"color":"#595959"},"rule":{"color":"#595959"}},"encoding":{"y":{"field":"lo","type":"quantitative","title":null},"y2":{"field":"hi"}}}]},
{"transform":[{"filter":"datum.s=='R'"}],"encoding":{"y":{"field":"v","type":"quantitative","title":null,"scale":{"domain":[0,300],"nice":false},"axis":{"orient":"right","values":[0,100,200,300]}}},"layer":[{"mark":{"type":"bar","width":22},"encoding":{"color":{"field":"c","type":"nominal","legend":null,"scale":{"domain":["감자","매실","호밀","브로콜리","옥수수","배추","대두","들깨","벼"],"range":["#FFD966","#2E75B6","#5B9BD5","#00B0F0","#A9D18E","#548235","#FFC000","#C00000","#F4B183"]}}}},{"mark":{"type":"errorbar","ticks":{"size":6,"color":"#595959"},"rule":{"color":"#595959"}},"encoding":{"y":{"field":"lo","type":"quantitative","title":null},"y2":{"field":"hi"}}}]}
],"resolve":{"scale":{"y":"independent"}}},
{"width":62,"height":113,"data":{"values":[{"t":"CS4"}]},"mark":{"type":"text","fontSize":23,"font":"Liberation Sans","dx":3},"encoding":{"text":{"field":"t"}}},
{"width":124,"height":113,"transform":[{"filter":"datum.p=='4-1'"}],"encoding":{"x":{"field":"c","type":"nominal","title":null,"scale":{"domain":["옥수수","매실"],"paddingInner":0,"paddingOuter":0}}},"layer":[
{"transform":[{"filter":"datum.s=='L'"}],"encoding":{"y":{"field":"v","type":"quantitative","title":null,"scale":{"domain":[0,1620],"nice":false},"axis":{"values":[0,200,400,600,800,1000,1200,1400,1600]}}},"layer":[{"mark":{"type":"bar","width":22},"encoding":{"color":{"field":"c","type":"nominal","legend":null,"scale":{"domain":["감자","매실","호밀","브로콜리","옥수수","배추","대두","들깨","벼"],"range":["#FFD966","#2E75B6","#5B9BD5","#00B0F0","#A9D18E","#548235","#FFC000","#C00000","#F4B183"]}}}},{"mark":{"type":"errorbar","ticks":{"size":6,"color":"#595959"},"rule":{"color":"#595959"}},"encoding":{"y":{"field":"lo","type":"quantitative","title":null},"y2":{"field":"hi"}}}]},
{"transform":[{"filter":"datum.s=='R'"}],"encoding":{"y":{"field":"v","type":"quantitative","title":null,"scale":{"domain":[0,800],"nice":false},"axis":{"orient":"right","values":[0,200,400,600,800]}}},"layer":[{"mark":{"type":"bar","width":22},"encoding":{"color":{"field":"c","type":"nominal","legend":null,"scale":{"domain":["감자","매실","호밀","브로콜리","옥수수","배추","대두","들깨","벼"],"range":["#FFD966","#2E75B6","#5B9BD5","#00B0F0","#A9D18E","#548235","#FFC000","#C00000","#F4B183"]}}}},{"mark":{"type":"errorbar","ticks":{"size":6,"color":"#595959"},"rule":{"color":"#595959"}},"encoding":{"y":{"field":"lo","type":"quantitative","title":null},"y2":{"field":"hi"}}}]}
],"resolve":{"scale":{"y":"independent"}}},
{"width":124,"height":113,"transform":[{"filter":"datum.p=='4-2'"}],"encoding":{"x":{"field":"c","type":"nominal","title":null,"scale":{"domain":["호밀","대두"],"paddingInner":0,"paddingOuter":0}}},"layer":[
{"transform":[{"filter":"datum.s=='L'"}],"encoding":{"y":{"field":"v","type":"quantitative","title":null,"scale":{"domain":[0,1200],"nice":false},"axis":{"values":[0,200,400,600,800,1000,1200]}}},"layer":[{"mark":{"type":"bar","width":22},"encoding":{"color":{"field":"c","type":"nominal","legend":null,"scale":{"domain":["감자","매실","호밀","브로콜리","옥수수","배추","대두","들깨","벼"],"range":["#FFD966","#2E75B6","#5B9BD5","#00B0F0","#A9D18E","#548235","#FFC000","#C00000","#F4B183"]}}}},{"mark":{"type":"errorbar","ticks":{"size":6,"color":"#595959"},"rule":{"color":"#595959"}},"encoding":{"y":{"field":"lo","type":"quantitative","title":null},"y2":{"field":"hi"}}}]},
{"transform":[{"filter":"datum.s=='R'"}],"encoding":{"y":{"field":"v","type":"quantitative","title":null,"scale":{"domain":[0,800],"nice":false},"axis":{"orient":"right","values":[0,200,400,600,800]}}},"layer":[{"mark":{"type":"bar","width":22},"encoding":{"color":{"field":"c","type":"nominal","legend":null,"scale":{"domain":["감자","매실","호밀","브로콜리","옥수수","배추","대두","들깨","벼"],"range":["#FFD966","#2E75B6","#5B9BD5","#00B0F0","#A9D18E","#548235","#FFC000","#C00000","#F4B183"]}}}},{"mark":{"type":"errorbar","ticks":{"size":6,"color":"#595959"},"rule":{"color":"#595959"}},"encoding":{"y":{"field":"lo","type":"quantitative","title":null},"y2":{"field":"hi"}}}]}
],"resolve":{"scale":{"y":"independent"}}},
{"width":124,"height":113,"transform":[{"filter":"datum.p=='4-3'"}],"encoding":{"x":{"field":"c","type":"nominal","title":null,"scale":{"domain":["옥수수"],"paddingInner":0,"paddingOuter":0},"axis":{"domainColor":"#7F7F7F","domainWidth":2}},"y":{"field":"v","type":"quantitative","title":null,"scale":{"domain":[0,1640],"nice":false},"axis":{"values":[0,200,400,600,800,1000,1200,1400,1600]}}},"layer":[{"mark":{"type":"bar","width":22},"encoding":{"color":{"field":"c","type":"nominal","legend":null,"scale":{"domain":["감자","매실","호밀","브로콜리","옥수수","배추","대두","들깨","벼"],"range":["#FFD966","#2E75B6","#5B9BD5","#00B0F0","#A9D18E","#548235","#FFC000","#C00000","#F4B183"]}}}},{"mark":{"type":"errorbar","ticks":{"size":6,"color":"#595959"},"rule":{"color":"#595959"}},"encoding":{"y":{"field":"lo","type":"quantitative","title":null},"y2":{"field":"hi"}}}]},
{"width":124,"height":113,"transform":[{"filter":"datum.p=='4-4'"}],"encoding":{"x":{"field":"c","type":"nominal","title":null,"scale":{"domain":["호밀","대두"],"paddingInner":0,"paddingOuter":0}}},"layer":[
{"transform":[{"filter":"datum.s=='L'"}],"encoding":{"y":{"field":"v","type":"quantitative","title":null,"scale":{"domain":[0,1305],"nice":false},"axis":{"values":[0,200,400,600,800,1000,1200]}}},"layer":[{"mark":{"type":"bar","width":22},"encoding":{"color":{"field":"c","type":"nominal","legend":null,"scale":{"domain":["감자","매실","호밀","브로콜리","옥수수","배추","대두","들깨","벼"],"range":["#FFD966","#2E75B6","#5B9BD5","#00B0F0","#A9D18E","#548235","#FFC000","#C00000","#F4B183"]}}}},{"mark":{"type":"errorbar","ticks":{"size":6,"color":"#595959"},"rule":{"color":"#595959"}},"encoding":{"y":{"field":"lo","type":"quantitative","title":null},"y2":{"field":"hi"}}}]},
{"transform":[{"filter":"datum.s=='R'"}],"encoding":{"y":{"field":"v","type":"quantitative","title":null,"scale":{"domain":[0,800],"nice":false},"axis":{"orient":"right","values":[0,200,400,600,800]}}},"layer":[{"mark":{"type":"bar","width":22},"encoding":{"color":{"field":"c","type":"nominal","legend":null,"scale":{"domain":["감자","매실","호밀","브로콜리","옥수수","배추","대두","들깨","벼"],"range":["#FFD966","#2E75B6","#5B9BD5","#00B0F0","#A9D18E","#548235","#FFC000","#C00000","#F4B183"]}}}},{"mark":{"type":"errorbar","ticks":{"size":6,"color":"#595959"},"rule":{"color":"#595959"}},"encoding":{"y":{"field":"lo","type":"quantitative","title":null},"y2":{"field":"hi"}}}]}
],"resolve":{"scale":{"y":"independent"}}},
{"width":124,"height":113,"transform":[{"filter":"datum.p=='4-5'"}],"encoding":{"x":{"field":"c","type":"nominal","title":null,"scale":{"domain":["감자","대두"],"paddingInner":0,"paddingOuter":0}}},"layer":[
{"transform":[{"filter":"datum.s=='L'"}],"encoding":{"y":{"field":"v","type":"quantitative","title":null,"scale":{"domain":[0,5670],"nice":false},"axis":{"values":[0,1000,2000,3000,4000,5000]}}},"layer":[{"mark":{"type":"bar","width":22},"encoding":{"color":{"field":"c","type":"nominal","legend":null,"scale":{"domain":["감자","매실","호밀","브로콜리","옥수수","배추","대두","들깨","벼"],"range":["#FFD966","#2E75B6","#5B9BD5","#00B0F0","#A9D18E","#548235","#FFC000","#C00000","#F4B183"]}}}},{"mark":{"type":"errorbar","ticks":{"size":6,"color":"#595959"},"rule":{"color":"#595959"}},"encoding":{"y":{"field":"lo","type":"quantitative","title":null},"y2":{"field":"hi"}}}]},
{"transform":[{"filter":"datum.s=='R'"}],"encoding":{"y":{"field":"v","type":"quantitative","title":null,"scale":{"domain":[0,800],"nice":false},"axis":{"orient":"right","values":[0,200,400,600,800]}}},"layer":[{"mark":{"type":"bar","width":22},"encoding":{"color":{"field":"c","type":"nominal","legend":null,"scale":{"domain":["감자","매실","호밀","브로콜리","옥수수","배추","대두","들깨","벼"],"range":["#FFD966","#2E75B6","#5B9BD5","#00B0F0","#A9D18E","#548235","#FFC000","#C00000","#F4B183"]}}}},{"mark":{"type":"errorbar","ticks":{"size":6,"color":"#595959"},"rule":{"color":"#595959"}},"encoding":{"y":{"field":"lo","type":"quantitative","title":null},"y2":{"field":"hi"}}}]}
],"resolve":{"scale":{"y":"independent"}}},
{"width":62,"height":113,"data":{"values":[{"t":"CS5"}]},"mark":{"type":"text","fontSize":23,"font":"Liberation Sans","dx":3},"encoding":{"text":{"field":"t"}}},
{"width":124,"height":113,"transform":[{"filter":"datum.p=='5-1'"}],"encoding":{"x":{"field":"c","type":"nominal","title":null,"scale":{"domain":["옥수수","배추"],"paddingInner":0,"paddingOuter":0}}},"layer":[
{"transform":[{"filter":"datum.s=='L'"}],"encoding":{"y":{"field":"v","type":"quantitative","scale":{"domain":[0,1640],"nice":false},"axis":{"values":[0,200,400,600,800,1000,1200,1400,1600],"title":"수량(kg/10a)","titleX":-50,"titleY":-13,"titleFontSize":9,"titleFontWeight":"normal","titleFont":"Noto Sans CJK KR","titleColor":"#404040"}}},"layer":[{"mark":{"type":"bar","width":22},"encoding":{"color":{"field":"c","type":"nominal","legend":null,"scale":{"domain":["감자","매실","호밀","브로콜리","옥수수","배추","대두","들깨","벼"],"range":["#FFD966","#2E75B6","#5B9BD5","#00B0F0","#A9D18E","#548235","#FFC000","#C00000","#F4B183"]}}}},{"mark":{"type":"errorbar","ticks":{"size":6,"color":"#595959"},"rule":{"color":"#595959"}},"encoding":{"y":{"field":"lo","type":"quantitative"},"y2":{"field":"hi"}}}]},
{"transform":[{"filter":"datum.s=='R'"}],"encoding":{"y":{"field":"v","type":"quantitative","title":null,"scale":{"domain":[0,12800],"nice":false},"axis":{"orient":"right","values":[0,2000,4000,6000,8000,10000,12000]}}},"layer":[{"mark":{"type":"bar","width":22},"encoding":{"color":{"field":"c","type":"nominal","legend":null,"scale":{"domain":["감자","매실","호밀","브로콜리","옥수수","배추","대두","들깨","벼"],"range":["#FFD966","#2E75B6","#5B9BD5","#00B0F0","#A9D18E","#548235","#FFC000","#C00000","#F4B183"]}}}},{"mark":{"type":"errorbar","ticks":{"size":6,"color":"#595959"},"rule":{"color":"#595959"}},"encoding":{"y":{"field":"lo","type":"quantitative","title":null},"y2":{"field":"hi"}}}]}
],"resolve":{"scale":{"y":"independent"}}},
{"width":124,"height":113,"transform":[{"filter":"datum.p=='5-2'"}],"encoding":{"x":{"field":"c","type":"nominal","title":null,"scale":{"domain":["감자"],"paddingInner":0,"paddingOuter":0},"axis":{"domainColor":"#7F7F7F","domainWidth":2}},"y":{"field":"v","type":"quantitative","title":null,"scale":{"domain":[0,5000],"nice":false},"axis":{"values":[0,1000,2000,3000,4000,5000]}}},"layer":[{"mark":{"type":"bar","width":22},"encoding":{"color":{"field":"c","type":"nominal","legend":null,"scale":{"domain":["감자","매실","호밀","브로콜리","옥수수","배추","대두","들깨","벼"],"range":["#FFD966","#2E75B6","#5B9BD5","#00B0F0","#A9D18E","#548235","#FFC000","#C00000","#F4B183"]}}}},{"mark":{"type":"errorbar","ticks":{"size":6,"color":"#595959"},"rule":{"color":"#595959"}},"encoding":{"y":{"field":"lo","type":"quantitative","title":null},"y2":{"field":"hi"}}}]},
{"width":124,"height":113,"transform":[{"filter":"datum.p=='5-3'"}],"encoding":{"x":{"field":"c","type":"nominal","title":null,"scale":{"domain":["호밀","들깨"],"paddingInner":0,"paddingOuter":0}}},"layer":[
{"transform":[{"filter":"datum.s=='L'"}],"encoding":{"y":{"field":"v","type":"quantitative","title":null,"scale":{"domain":[0,1310],"nice":false},"axis":{"values":[0,200,400,600,800,1000,1200]}}},"layer":[{"mark":{"type":"bar","width":22},"encoding":{"color":{"field":"c","type":"nominal","legend":null,"scale":{"domain":["감자","매실","호밀","브로콜리","옥수수","배추","대두","들깨","벼"],"range":["#FFD966","#2E75B6","#5B9BD5","#00B0F0","#A9D18E","#548235","#FFC000","#C00000","#F4B183"]}}}},{"mark":{"type":"errorbar","ticks":{"size":6,"color":"#595959"},"rule":{"color":"#595959"}},"encoding":{"y":{"field":"lo","type":"quantitative","title":null},"y2":{"field":"hi"}}}]},
{"transform":[{"filter":"datum.s=='R'"}],"encoding":{"y":{"field":"v","type":"quantitative","title":null,"scale":{"domain":[0,300],"nice":false},"axis":{"orient":"right","values":[0,100,200,300]}}},"layer":[{"mark":{"type":"bar","width":22},"encoding":{"color":{"field":"c","type":"nominal","legend":null,"scale":{"domain":["감자","매실","호밀","브로콜리","옥수수","배추","대두","들깨","벼"],"range":["#FFD966","#2E75B6","#5B9BD5","#00B0F0","#A9D18E","#548235","#FFC000","#C00000","#F4B183"]}}}},{"mark":{"type":"errorbar","ticks":{"size":6,"color":"#595959"},"rule":{"color":"#595959"}},"encoding":{"y":{"field":"lo","type":"quantitative","title":null},"y2":{"field":"hi"}}}]}
],"resolve":{"scale":{"y":"independent"}}},
{"width":124,"height":113,"transform":[{"filter":"datum.p=='5-4'"}],"encoding":{"x":{"field":"c","type":"nominal","title":null,"scale":{"domain":["옥수수","배추"],"paddingInner":0,"paddingOuter":0}}},"layer":[
{"transform":[{"filter":"datum.s=='L'"}],"encoding":{"y":{"field":"v","type":"quantitative","title":null,"scale":{"domain":[0,1640],"nice":false},"axis":{"values":[0,200,400,600,800,1000,1200,1400,1600]}}},"layer":[{"mark":{"type":"bar","width":22},"encoding":{"color":{"field":"c","type":"nominal","legend":null,"scale":{"domain":["감자","매실","호밀","브로콜리","옥수수","배추","대두","들깨","벼"],"range":["#FFD966","#2E75B6","#5B9BD5","#00B0F0","#A9D18E","#548235","#FFC000","#C00000","#F4B183"]}}}},{"mark":{"type":"errorbar","ticks":{"size":6,"color":"#595959"},"rule":{"color":"#595959"}},"encoding":{"y":{"field":"lo","type":"quantitative","title":null},"y2":{"field":"hi"}}}]},
{"transform":[{"filter":"datum.s=='R'"}],"encoding":{"y":{"field":"v","type":"quantitative","title":null,"scale":{"domain":[0,12800],"nice":false},"axis":{"orient":"right","values":[0,2000,4000,6000,8000,10000,12000]}}},"layer":[{"mark":{"type":"bar","width":22},"encoding":{"color":{"field":"c","type":"nominal","legend":null,"scale":{"domain":["감자","매실","호밀","브로콜리","옥수수","배추","대두","들깨","벼"],"range":["#FFD966","#2E75B6","#5B9BD5","#00B0F0","#A9D18E","#548235","#FFC000","#C00000","#F4B183"]}}}},{"mark":{"type":"errorbar","ticks":{"size":6,"color":"#595959"},"rule":{"color":"#595959"}},"encoding":{"y":{"field":"lo","type":"quantitative","title":null},"y2":{"field":"hi"}}}]}
],"resolve":{"scale":{"y":"independent"}}},
{"width":124,"height":113,"transform":[{"filter":"datum.p=='5-5'"}],"encoding":{"x":{"field":"c","type":"nominal","title":null,"scale":{"domain":["감자","옥수수"],"paddingInner":0,"paddingOuter":0}}},"layer":[
{"transform":[{"filter":"datum.s=='L'"}],"encoding":{"y":{"field":"v","type":"quantitative","title":null,"scale":{"domain":[0,5200],"nice":false},"axis":{"values":[0,1000,2000,3000,4000,5000]}}},"layer":[{"mark":{"type":"bar","width":22},"encoding":{"color":{"field":"c","type":"nominal","legend":null,"scale":{"domain":["감자","매실","호밀","브로콜리","옥수수","배추","대두","들깨","벼"],"range":["#FFD966","#2E75B6","#5B9BD5","#00B0F0","#A9D18E","#548235","#FFC000","#C00000","#F4B183"]}}}},{"mark":{"type":"errorbar","ticks":{"size":6,"color":"#595959"},"rule":{"color":"#595959"}},"encoding":{"y":{"field":"lo","type":"quantitative","title":null},"y2":{"field":"hi"}}}]},
{"transform":[{"filter":"datum.s=='R'"}],"encoding":{"y":{"field":"v","type":"quantitative","title":null,"scale":{"domain":[0,1600],"nice":false},"axis":{"orient":"right","values":[0,200,400,600,800,1000,1200,1400,1600]}}},"layer":[{"mark":{"type":"bar","width":22},"encoding":{"color":{"field":"c","type":"nominal","legend":null,"scale":{"domain":["감자","매실","호밀","브로콜리","옥수수","배추","대두","들깨","벼"],"range":["#FFD966","#2E75B6","#5B9BD5","#00B0F0","#A9D18E","#548235","#FFC000","#C00000","#F4B183"]}}}},{"mark":{"type":"errorbar","ticks":{"size":6,"color":"#595959"},"rule":{"color":"#595959"}},"encoding":{"y":{"field":"lo","type":"quantitative","title":null},"y2":{"field":"hi"}}}]}
],"resolve":{"scale":{"y":"independent"}}},
{"width":62,"height":113,"data":{"values":[{"t":"CS6"}]},"mark":{"type":"text","fontSize":23,"font":"Liberation Sans","dx":3},"encoding":{"text":{"field":"t"}}},
{"width":124,"height":113,"transform":[{"filter":"datum.p=='6-1'"}],"encoding":{"x":{"field":"c","type":"nominal","title":null,"scale":{"domain":["옥수수"],"paddingInner":0,"paddingOuter":0},"axis":{"domainColor":"#7F7F7F","domainWidth":2}},"y":{"field":"v","type":"quantitative","title":null,"scale":{"domain":[0,1600],"nice":false},"axis":{"values":[0,200,400,600,800,1000,1200,1400,1600]}}},"layer":[{"mark":{"type":"bar","width":22},"encoding":{"color":{"field":"c","type":"nominal","legend":null,"scale":{"domain":["감자","매실","호밀","브로콜리","옥수수","배추","대두","들깨","벼"],"range":["#FFD966","#2E75B6","#5B9BD5","#00B0F0","#A9D18E","#548235","#FFC000","#C00000","#F4B183"]}}}},{"mark":{"type":"errorbar","ticks":{"size":6,"color":"#595959"},"rule":{"color":"#595959"}},"encoding":{"y":{"field":"lo","type":"quantitative","title":null},"y2":{"field":"hi"}}}]},
{"width":124,"height":113,"transform":[{"filter":"datum.p=='6-2'"}],"encoding":{"x":{"field":"c","type":"nominal","title":null,"scale":{"domain":["호밀","브로콜리"],"paddingInner":0,"paddingOuter":0}}},"layer":[
{"transform":[{"filter":"datum.s=='L'"}],"encoding":{"y":{"field":"v","type":"quantitative","title":null,"scale":{"domain":[0,1310],"nice":false},"axis":{"values":[0,200,400,600,800,1000,1200]}}},"layer":[{"mark":{"type":"bar","width":22},"encoding":{"color":{"field":"c","type":"nominal","legend":null,"scale":{"domain":["감자","매실","호밀","브로콜리","옥수수","배추","대두","들깨","벼"],"range":["#FFD966","#2E75B6","#5B9BD5","#00B0F0","#A9D18E","#548235","#FFC000","#C00000","#F4B183"]}}}},{"mark":{"type":"errorbar","ticks":{"size":6,"color":"#595959"},"rule":{"color":"#595959"}},"encoding":{"y":{"field":"lo","type":"quantitative","title":null},"y2":{"field":"hi"}}}]},
{"transform":[{"filter":"datum.s=='R'"}],"encoding":{"y":{"field":"v","type":"quantitative","title":null,"scale":{"domain":[0,1240],"nice":false},"axis":{"orient":"right","values":[0,200,400,600,800,1000,1200]}}},"layer":[{"mark":{"type":"bar","width":22},"encoding":{"color":{"field":"c","type":"nominal","legend":null,"scale":{"domain":["감자","매실","호밀","브로콜리","옥수수","배추","대두","들깨","벼"],"range":["#FFD966","#2E75B6","#5B9BD5","#00B0F0","#A9D18E","#548235","#FFC000","#C00000","#F4B183"]}}}},{"mark":{"type":"errorbar","ticks":{"size":6,"color":"#595959"},"rule":{"color":"#595959"}},"encoding":{"y":{"field":"lo","type":"quantitative","title":null},"y2":{"field":"hi"}}}]}
],"resolve":{"scale":{"y":"independent"}}},
{"width":124,"height":113,"transform":[{"filter":"datum.p=='6-3'"}],"encoding":{"x":{"field":"c","type":"nominal","title":null,"scale":{"domain":["감자","배추"],"paddingInner":0,"paddingOuter":0}}},"layer":[
{"transform":[{"filter":"datum.s=='L'"}],"encoding":{"y":{"field":"v","type":"quantitative","title":null,"scale":{"domain":[0,5720],"nice":false},"axis":{"values":[0,1000,2000,3000,4000,5000]}}},"layer":[{"mark":{"type":"bar","width":22},"encoding":{"color":{"field":"c","type":"nominal","legend":null,"scale":{"domain":["감자","매실","호밀","브로콜리","옥수수","배추","대두","들깨","벼"],"range":["#FFD966","#2E75B6","#5B9BD5","#00B0F0","#A9D18E","#548235","#FFC000","#C00000","#F4B183"]}}}},{"mark":{"type":"errorbar","ticks":{"size":6,"color":"#595959"},"rule":{"color":"#595959"}},"encoding":{"y":{"field":"lo","type":"quantitative","title":null},"y2":{"field":"hi"}}}]},
{"transform":[{"filter":"datum.s=='R'"}],"encoding":{"y":{"field":"v","type":"quantitative","title":null,"scale":{"domain":[0,12950],"nice":false},"axis":{"orient":"right","values":[0,2000,4000,6000,8000,10000,12000]}}},"layer":[{"mark":{"type":"bar","width":22},"encoding":{"color":{"field":"c","type":"nominal","legend":null,"scale":{"domain":["감자","매실","호밀","브로콜리","옥수수","배추","대두","들깨","벼"],"range":["#FFD966","#2E75B6","#5B9BD5","#00B0F0","#A9D18E","#548235","#FFC000","#C00000","#F4B183"]}}}},{"mark":{"type":"errorbar","ticks":{"size":6,"color":"#595959"},"rule":{"color":"#595959"}},"encoding":{"y":{"field":"lo","type":"quantitative","title":null},"y2":{"field":"hi"}}}]}
],"resolve":{"scale":{"y":"independent"}}},
{"width":124,"height":113,"transform":[{"filter":"datum.p=='6-4'"}],"encoding":{"x":{"field":"c","type":"nominal","title":null,"scale":{"domain":["매실","대두"],"paddingInner":0,"paddingOuter":0}}},"layer":[
{"transform":[{"filter":"datum.s=='L'"}],"encoding":{"y":{"field":"v","type":"quantitative","title":null,"scale":{"domain":[0,800],"nice":false},"axis":{"values":[0,200,400,600,800]}}},"layer":[{"mark":{"type":"bar","width":22},"encoding":{"color":{"field":"c","type":"nominal","legend":null,"scale":{"domain":["감자","매실","호밀","브로콜리","옥수수","배추","대두","들깨","벼"],"range":["#FFD966","#2E75B6","#5B9BD5","#00B0F0","#A9D18E","#548235","#FFC000","#C00000","#F4B183"]}}}},{"mark":{"type":"errorbar","ticks":{"size":6,"color":"#595959"},"rule":{"color":"#595959"}},"encoding":{"y":{"field":"lo","type":"quantitative","title":null},"y2":{"field":"hi"}}}]},
{"transform":[{"filter":"datum.s=='R'"}],"encoding":{"y":{"field":"v","type":"quantitative","title":null,"scale":{"domain":[0,800],"nice":false},"axis":{"orient":"right","values":[0,200,400,600,800]}}},"layer":[{"mark":{"type":"bar","width":22},"encoding":{"color":{"field":"c","type":"nominal","legend":null,"scale":{"domain":["감자","매실","호밀","브로콜리","옥수수","배추","대두","들깨","벼"],"range":["#FFD966","#2E75B6","#5B9BD5","#00B0F0","#A9D18E","#548235","#FFC000","#C00000","#F4B183"]}}}},{"mark":{"type":"errorbar","ticks":{"size":6,"color":"#595959"},"rule":{"color":"#595959"}},"encoding":{"y":{"field":"lo","type":"quantitative","title":null},"y2":{"field":"hi"}}}]}
],"resolve":{"scale":{"y":"independent"}}},
{"width":124,"height":113,"transform":[{"filter":"datum.p=='6-5'"}],"encoding":{"x":{"field":"c","type":"nominal","title":null,"scale":{"domain":["매실","대두"],"paddingInner":0,"paddingOuter":0}}},"layer":[
{"transform":[{"filter":"datum.s=='L'"}],"encoding":{"y":{"field":"v","type":"quantitative","title":null,"scale":{"domain":[0,800],"nice":false},"axis":{"values":[0,200,400,600,800]}}},"layer":[{"mark":{"type":"bar","width":22},"encoding":{"color":{"field":"c","type":"nominal","legend":null,"scale":{"domain":["감자","매실","호밀","브로콜리","옥수수","배추","대두","들깨","벼"],"range":["#FFD966","#2E75B6","#5B9BD5","#00B0F0","#A9D18E","#548235","#FFC000","#C00000","#F4B183"]}}}},{"mark":{"type":"errorbar","ticks":{"size":6,"color":"#595959"},"rule":{"color":"#595959"}},"encoding":{"y":{"field":"lo","type":"quantitative","title":null},"y2":{"field":"hi"}}}]},
{"transform":[{"filter":"datum.s=='R'"}],"encoding":{"y":{"field":"v","type":"quantitative","title":null,"scale":{"domain":[0,800],"nice":false},"axis":{"orient":"right","values":[0,200,400,600,800]}}},"layer":[{"mark":{"type":"bar","width":22},"encoding":{"color":{"field":"c","type":"nominal","legend":null,"scale":{"domain":["감자","매실","호밀","브로콜리","옥수수","배추","대두","들깨","벼"],"range":["#FFD966","#2E75B6","#5B9BD5","#00B0F0","#A9D18E","#548235","#FFC000","#C00000","#F4B183"]}}}},{"mark":{"type":"errorbar","ticks":{"size":6,"color":"#595959"},"rule":{"color":"#595959"}},"encoding":{"y":{"field":"lo","type":"quantitative","title":null},"y2":{"field":"hi"}}}]}
],"resolve":{"scale":{"y":"independent"}}},
{"width":62,"height":113,"data":{"values":[{"t":"CS7"}]},"mark":{"type":"text","fontSize":23,"font":"Liberation Sans","dx":3},"encoding":{"text":{"field":"t"}}},
{"width":124,"height":113,"transform":[{"filter":"datum.p=='7-1'"}],"encoding":{"x":{"field":"c","type":"nominal","title":null,"scale":{"domain":["대두"],"paddingInner":0,"paddingOuter":0},"axis":{"domainColor":"#7F7F7F","domainWidth":2}},"y":{"field":"v","type":"quantitative","title":null,"scale":{"domain":[0,800],"nice":false},"axis":{"values":[0,200,400,600,800]}}},"layer":[{"mark":{"type":"bar","width":22},"encoding":{"color":{"field":"c","type":"nominal","legend":null,"scale":{"domain":["감자","매실","호밀","브로콜리","옥수수","배추","대두","들깨","벼"],"range":["#FFD966","#2E75B6","#5B9BD5","#00B0F0","#A9D18E","#548235","#FFC000","#C00000","#F4B183"]}}}},{"mark":{"type":"errorbar","ticks":{"size":6,"color":"#595959"},"rule":{"color":"#595959"}},"encoding":{"y":{"field":"lo","type":"quantitative","title":null},"y2":{"field":"hi"}}}]},
{"width":124,"height":113,"transform":[{"filter":"datum.p=='7-2'"}],"encoding":{"x":{"field":"c","type":"nominal","title":null,"scale":{"domain":["대두"],"paddingInner":0,"paddingOuter":0},"axis":{"domainColor":"#7F7F7F","domainWidth":2}},"y":{"field":"v","type":"quantitative","title":null,"scale":{"domain":[0,800],"nice":false},"axis":{"values":[0,200,400,600,800]}}},"layer":[{"mark":{"type":"bar","width":22},"encoding":{"color":{"field":"c","type":"nominal","legend":null,"scale":{"domain":["감자","매실","호밀","브로콜리","옥수수","배추","대두","들깨","벼"],"range":["#FFD966","#2E75B6","#5B9BD5","#00B0F0","#A9D18E","#548235","#FFC000","#C00000","#F4B183"]}}}},{"mark":{"type":"errorbar","ticks":{"size":6,"color":"#595959"},"rule":{"color":"#595959"}},"encoding":{"y":{"field":"lo","type":"quantitative","title":null},"y2":{"field":"hi"}}}]},
{"width":124,"height":113,"transform":[{"filter":"datum.p=='7-3'"}],"encoding":{"x":{"field":"c","type":"nominal","title":null,"scale":{"domain":["대두"],"paddingInner":0,"paddingOuter":0},"axis":{"domainColor":"#7F7F7F","domainWidth":2}},"y":{"field":"v","type":"quantitative","title":null,"scale":{"domain":[0,800],"nice":false},"axis":{"values":[0,200,400,600,800]}}},"layer":[{"mark":{"type":"bar","width":22},"encoding":{"color":{"field":"c","type":"nominal","legend":null,"scale":{"domain":["감자","매실","호밀","브로콜리","옥수수","배추","대두","들깨","벼"],"range":["#FFD966","#2E75B6","#5B9BD5","#00B0F0","#A9D18E","#548235","#FFC000","#C00000","#F4B183"]}}}},{"mark":{"type":"errorbar","ticks":{"size":6,"color":"#595959"},"rule":{"color":"#595959"}},"encoding":{"y":{"field":"lo","type":"quantitative","title":null},"y2":{"field":"hi"}}}]},
{"width":124,"height":113,"transform":[{"filter":"datum.p=='7-4'"}],"encoding":{"x":{"field":"c","type":"nominal","title":null,"scale":{"domain":["대두"],"paddingInner":0,"paddingOuter":0},"axis":{"domainColor":"#7F7F7F","domainWidth":2}},"y":{"field":"v","type":"quantitative","title":null,"scale":{"domain":[0,800],"nice":false},"axis":{"values":[0,200,400,600,800]}}},"layer":[{"mark":{"type":"bar","width":22},"encoding":{"color":{"field":"c","type":"nominal","legend":null,"scale":{"domain":["감자","매실","호밀","브로콜리","옥수수","배추","대두","들깨","벼"],"range":["#FFD966","#2E75B6","#5B9BD5","#00B0F0","#A9D18E","#548235","#FFC000","#C00000","#F4B183"]}}}},{"mark":{"type":"errorbar","ticks":{"size":6,"color":"#595959"},"rule":{"color":"#595959"}},"encoding":{"y":{"field":"lo","type":"quantitative","title":null},"y2":{"field":"hi"}}}]},
{"width":124,"height":113,"transform":[{"filter":"datum.p=='7-5'"}],"encoding":{"x":{"field":"c","type":"nominal","title":null,"scale":{"domain":["대두"],"paddingInner":0,"paddingOuter":0},"axis":{"domainColor":"#7F7F7F","domainWidth":2}},"y":{"field":"v","type":"quantitative","title":null,"scale":{"domain":[0,800],"nice":false},"axis":{"values":[0,200,400,600,800]}}},"layer":[{"mark":{"type":"bar","width":22},"encoding":{"color":{"field":"c","type":"nominal","legend":null,"scale":{"domain":["감자","매실","호밀","브로콜리","옥수수","배추","대두","들깨","벼"],"range":["#FFD966","#2E75B6","#5B9BD5","#00B0F0","#A9D18E","#548235","#FFC000","#C00000","#F4B183"]}}}},{"mark":{"type":"errorbar","ticks":{"size":6,"color":"#595959"},"rule":{"color":"#595959"}},"encoding":{"y":{"field":"lo","type":"quantitative","title":null},"y2":{"field":"hi"}}}]},
{"width":62,"height":113,"data":{"values":[{"t":"CS8"}]},"mark":{"type":"text","fontSize":23,"font":"Liberation Sans","dx":3},"encoding":{"text":{"field":"t"}}},
{"width":124,"height":113,"transform":[{"filter":"datum.p=='8-1'"}],"encoding":{"x":{"field":"c","type":"nominal","title":null,"scale":{"domain":["벼"],"paddingInner":0,"paddingOuter":0},"axis":{"domainColor":"#7F7F7F","domainWidth":2}},"y":{"field":"v","type":"quantitative","title":null,"scale":{"domain":[0,800],"nice":false},"axis":{"values":[0,200,400,600,800]}}},"layer":[{"mark":{"type":"bar","width":22},"encoding":{"color":{"field":"c","type":"nominal","legend":null,"scale":{"domain":["감자","매실","호밀","브로콜리","옥수수","배추","대두","들깨","벼"],"range":["#FFD966","#2E75B6","#5B9BD5","#00B0F0","#A9D18E","#548235","#FFC000","#C00000","#F4B183"]}}}}]},
{"width":124,"height":113,"transform":[{"filter":"datum.p=='8-2'"}],"encoding":{"x":{"field":"c","type":"nominal","title":null,"scale":{"domain":["벼"],"paddingInner":0,"paddingOuter":0},"axis":{"domainColor":"#7F7F7F","domainWidth":2}},"y":{"field":"v","type":"quantitative","title":null,"scale":{"domain":[0,600],"nice":false},"axis":{"values":[0,100,200,300,400,500,600]}}},"layer":[{"mark":{"type":"bar","width":22},"encoding":{"color":{"field":"c","type":"nominal","legend":null,"scale":{"domain":["감자","매실","호밀","브로콜리","옥수수","배추","대두","들깨","벼"],"range":["#FFD966","#2E75B6","#5B9BD5","#00B0F0","#A9D18E","#548235","#FFC000","#C00000","#F4B183"]}}}},{"mark":{"type":"errorbar","ticks":{"size":6,"color":"#595959"},"rule":{"color":"#595959"}},"encoding":{"y":{"field":"lo","type":"quantitative","title":null},"y2":{"field":"hi"}}}]},
{"width":124,"height":113,"transform":[{"filter":"datum.p=='8-3'"}],"encoding":{"x":{"field":"c","type":"nominal","title":null,"scale":{"domain":["벼"],"paddingInner":0,"paddingOuter":0},"axis":{"domainColor":"#7F7F7F","domainWidth":2}},"y":{"field":"v","type":"quantitative","title":null,"scale":{"domain":[0,600],"nice":false},"axis":{"values":[0,100,200,300,400,500,600]}}},"layer":[{"mark":{"type":"bar","width":22},"encoding":{"color":{"field":"c","type":"nominal","legend":null,"scale":{"domain":["감자","매실","호밀","브로콜리","옥수수","배추","대두","들깨","벼"],"range":["#FFD966","#2E75B6","#5B9BD5","#00B0F0","#A9D18E","#548235","#FFC000","#C00000","#F4B183"]}}}},{"mark":{"type":"errorbar","ticks":{"size":6,"color":"#595959"},"rule":{"color":"#595959"}},"encoding":{"y":{"field":"lo","type":"quantitative","title":null},"y2":{"field":"hi"}}}]},
{"width":124,"height":113,"transform":[{"filter":"datum.p=='8-4'"}],"encoding":{"x":{"field":"c","type":"nominal","title":null,"scale":{"domain":["벼"],"paddingInner":0,"paddingOuter":0},"axis":{"domainColor":"#7F7F7F","domainWidth":2}},"y":{"field":"v","type":"quantitative","title":null,"scale":{"domain":[0,600],"nice":false},"axis":{"values":[0,100,200,300,400,500,600]}}},"layer":[{"mark":{"type":"bar","width":22},"encoding":{"color":{"field":"c","type":"nominal","legend":null,"scale":{"domain":["감자","매실","호밀","브로콜리","옥수수","배추","대두","들깨","벼"],"range":["#FFD966","#2E75B6","#5B9BD5","#00B0F0","#A9D18E","#548235","#FFC000","#C00000","#F4B183"]}}}},{"mark":{"type":"errorbar","ticks":{"size":6,"color":"#595959"},"rule":{"color":"#595959"}},"encoding":{"y":{"field":"lo","type":"quantitative","title":null},"y2":{"field":"hi"}}}]},
{"width":124,"height":113,"transform":[{"filter":"datum.p=='8-5'"}],"encoding":{"x":{"field":"c","type":"nominal","title":null,"scale":{"domain":["벼"],"paddingInner":0,"paddingOuter":0},"axis":{"domainColor":"#7F7F7F","domainWidth":2}},"y":{"field":"v","type":"quantitative","title":null,"scale":{"domain":[0,600],"nice":false},"axis":{"values":[0,100,200,300,400,500,600]}}},"layer":[{"mark":{"type":"bar","width":22},"encoding":{"color":{"field":"c","type":"nominal","legend":null,"scale":{"domain":["감자","매실","호밀","브로콜리","옥수수","배추","대두","들깨","벼"],"range":["#FFD966","#2E75B6","#5B9BD5","#00B0F0","#A9D18E","#548235","#FFC000","#C00000","#F4B183"]}}}},{"mark":{"type":"errorbar","ticks":{"size":6,"color":"#595959"},"rule":{"color":"#595959"}},"encoding":{"y":{"field":"lo","type":"quantitative","title":null},"y2":{"field":"hi"}}}]}
]
}
